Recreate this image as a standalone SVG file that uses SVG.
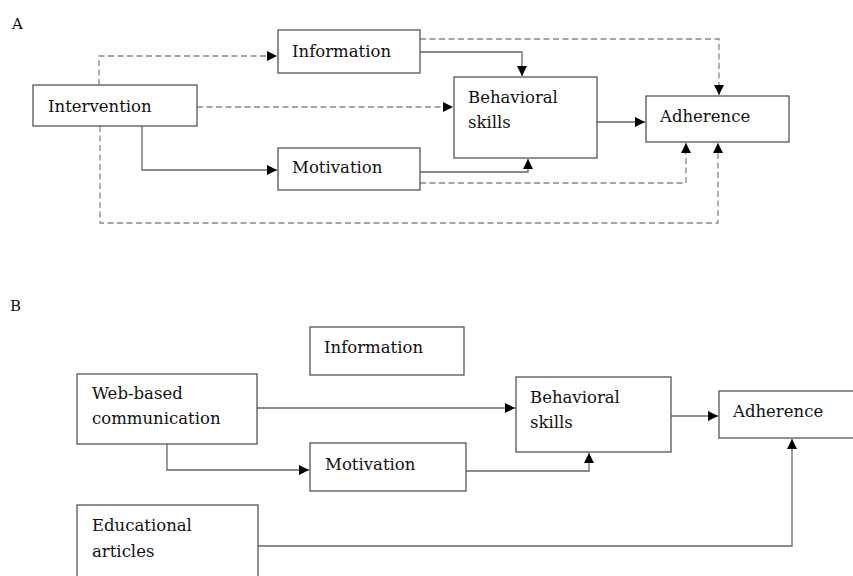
<svg xmlns="http://www.w3.org/2000/svg" width="853" height="576" viewBox="0 0 853 576">
<style>
.box{fill:#fff;stroke:#555;stroke-width:1.3}
.t{font-family:"DejaVu Serif","Liberation Serif",serif;font-size:16.5px;fill:#111}
.lbl{font-family:"DejaVu Serif","Liberation Serif",serif;font-size:15px;fill:#111}
.s{fill:none;stroke:#666;stroke-width:1.3}
.d{fill:none;stroke:#888;stroke-width:1.3;stroke-dasharray:6 3.5}
</style>
<defs>
<marker id="ah" markerUnits="userSpaceOnUse" markerWidth="11" markerHeight="10" refX="10" refY="5" orient="auto">
<path d="M0,0 L10,5 L0,10 Z" fill="#000"/>
</marker>
</defs>
<rect width="853" height="576" fill="#fff"/>
<text class="lbl" x="12" y="29">A</text>
<text class="lbl" x="10" y="311">B</text>
<g id="connectors">
<path class="d" d="M99,85 V56 H277" marker-end="url(#ah)"/>
<path class="d" d="M197,107 H453" marker-end="url(#ah)"/>
<path class="s" d="M142,126 V170 H277" marker-end="url(#ah)"/>
<path class="d" d="M100,126 V223 H718 V143" marker-end="url(#ah)"/>
<path class="d" d="M420,39 H719 V95" marker-end="url(#ah)"/>
<path class="s" d="M420,52 H522 V76" marker-end="url(#ah)"/>
<path class="s" d="M597,122 H645" marker-end="url(#ah)"/>
<path class="s" d="M420,172 H528 V159" marker-end="url(#ah)"/>
<path class="d" d="M420,183 H686 V143" marker-end="url(#ah)"/>
<path class="s" d="M257,408 H515" marker-end="url(#ah)"/>
<path class="s" d="M167,444 V470 H309" marker-end="url(#ah)"/>
<path class="s" d="M466,471 H589 V453" marker-end="url(#ah)"/>
<path class="s" d="M671,416 H718" marker-end="url(#ah)"/>
<path class="s" d="M258,546 H792 V439" marker-end="url(#ah)"/>
</g>
<g id="a-information"><rect class="box" x="278" y="30" width="142" height="43"/><text class="t" x="292" y="57">Information</text></g>
<g id="a-intervention"><rect class="box" x="33" y="85" width="164" height="41"/><text class="t" x="48" y="112">Intervention</text></g>
<g id="a-motivation"><rect class="box" x="278" y="148" width="142" height="42"/><text class="t" x="292" y="173">Motivation</text></g>
<g id="a-behavioral"><rect class="box" x="454" y="77" width="143" height="81"/><text class="t" x="468" y="103">Behavioral</text><text class="t" x="468" y="128">skills</text></g>
<g id="a-adherence"><rect class="box" x="646" y="96" width="143" height="46"/><text class="t" x="660" y="122">Adherence</text></g>
<g id="b-information"><rect class="box" x="310" y="327" width="154" height="48"/><text class="t" x="324" y="353">Information</text></g>
<g id="b-web"><rect class="box" x="77" y="374" width="180" height="70"/><text class="t" x="92" y="399">Web-based</text><text class="t" x="92" y="424">communication</text></g>
<g id="b-motivation"><rect class="box" x="310" y="443" width="156" height="48"/><text class="t" x="325" y="470">Motivation</text></g>
<g id="b-educational"><rect class="box" x="77" y="505" width="181" height="90"/><text class="t" x="92" y="531">Educational</text><text class="t" x="92" y="557">articles</text></g>
<g id="b-behavioral"><rect class="box" x="516" y="377" width="155" height="75"/><text class="t" x="530" y="403">Behavioral</text><text class="t" x="530" y="428">skills</text></g>
<g id="b-adherence"><rect class="box" x="719" y="391" width="145" height="47"/><text class="t" x="733" y="417">Adherence</text></g>
</svg>
